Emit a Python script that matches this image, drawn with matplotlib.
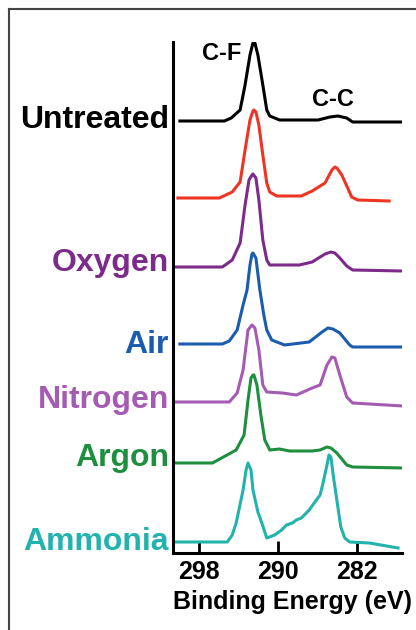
import numpy as np
import matplotlib.pyplot as plt
from matplotlib.lines import Line2D

plt.rcParams['font.family'] = ['Liberation Sans', 'DejaVu Sans']
plt.rcParams['font.weight'] = 'bold'

# XPS C1s spectra, binding energy (eV) vs intensity (a.u., relative to own baseline)
untreated_e = [299.9, 295.4, 294.7, 293.8, 293.3, 292.8, 292.5, 292.4, 292.3, 292.0, 291.5, 291.1, 290.8,
               289.8, 285.9, 284.7, 283.9, 283.0, 282.4, 277.3]
untreated_i = [0, 0, 0.3, 1.1, 3.6, 6.6, 7.8, 7.9, 7.8, 6.6, 3.6, 1.1, 0.5,
               0.1, 0.1, 0.4, 0.5, 0.3, -0.1, -0.1]

red_e = [300.1, 295.9, 294.6, 293.8, 293.3, 292.8, 292.5, 292.4, 292.2, 291.9, 291.5, 291.1, 290.8,
         290.1, 287.6, 286.5, 285.2, 284.5, 284.2, 284.0, 283.5, 282.9, 282.5, 281.9, 278.7]
red_i = [0, 0, 0.6, 1.6, 4.8, 7.8, 8.7, 8.8, 8.6, 7.3, 4.3, 1.5, 0.6,
         0.2, 0.2, 0.7, 1.5, 2.8, 3.1, 3.0, 2.3, 1.0, 0.1, -0.2, -0.3]

oxygen_e = [300.3, 295.6, 294.6, 293.8, 293.3, 292.9, 292.6, 292.5, 292.2, 291.9, 291.5, 291.1, 290.8,
            287.8, 286.5, 285.2, 284.6, 284.2, 283.7, 283.0, 282.4, 277.3]
oxygen_i = [0, 0, 0.7, 2.4, 6.2, 8.7, 9.2, 9.3, 8.9, 6.7, 2.7, 0.7, 0.2,
            0.2, 0.5, 1.3, 1.5, 1.4, 0.9, 0.1, -0.3, -0.4]

air_e = [299.9, 295.6, 294.9, 294.1, 293.5, 293.1, 292.8, 292.6, 292.5, 292.2, 291.8, 291.4, 291.1,
         290.6, 289.3, 286.8, 285.5, 284.9, 284.4, 283.7, 282.7, 282.4, 277.3]
air_i = [0, 0, 0.3, 1.4, 3.9, 5.4, 7.9, 9.0, 9.1, 8.6, 5.4, 2.9, 1.4,
         0.4, -0.1, 0.2, 1.2, 1.6, 1.5, 1.1, -0.1, -0.3, -0.3]

nitrogen_e = [300.3, 294.9, 294.1, 293.5, 293.0, 292.6, 292.3, 291.9, 291.5, 291.1, 289.5, 288.1,
              286.5, 285.7, 285.0, 284.5, 284.2, 283.7, 283.0, 282.4, 277.3]
nitrogen_i = [0, 0, 0.9, 3.2, 7.2, 7.7, 7.4, 5.2, 1.7, 1.0, 0.9, 0.7,
              1.4, 1.7, 3.7, 4.5, 4.4, 2.7, 0.5, -0.1, -0.4]

argon_e = [300.3, 296.6, 294.2, 293.4, 293.0, 292.7, 292.5, 292.4, 292.1, 291.7, 291.3, 290.8, 289.8,
           288.8, 286.5, 285.7, 285.0, 284.6, 284.0, 283.0, 282.4, 277.3]
argon_i = [0, 0, 1.3, 2.8, 6.3, 8.5, 8.8, 8.8, 7.8, 4.8, 2.3, 1.3, 1.4,
           1.2, 1.2, 1.3, 1.6, 1.5, 1.0, -0.2, -0.4, -0.5]

ammonia_e = [300.3, 295.1, 294.6, 294.2, 293.5, 293.2, 293.0, 292.7, 292.5, 292.0, 291.6, 291.1,
             290.3, 289.6, 289.1, 288.5, 288.1, 287.6, 287.3, 286.8, 286.3, 285.7, 285.4, 285.0,
             284.8, 284.6, 284.4, 283.9, 283.6, 283.2, 282.7, 280.7, 277.8]
ammonia_i = [0, 0, 0.7, 1.9, 5.2, 7.2, 7.9, 7.2, 5.2, 3.0, 1.9, 0.4,
             0.7, 1.2, 1.7, 1.9, 2.2, 2.4, 2.7, 3.2, 3.9, 4.7, 5.9, 7.7,
             8.7, 8.5, 6.9, 3.5, 1.5, 0.4, 0.0, -0.1, -0.6]

labels = ['Untreated', '', 'Oxygen', 'Air', 'Nitrogen', 'Argon', 'Ammonia']
offsets = [43.2, 35.5, 28.6, 20.9, 15.1, 9.0, 1.1]
label_y = [43.3, 35.5, 29.0, 20.8, 15.3, 9.5, 1.1]
colors = ['#000000', '#ee3524', '#7d2b8b', '#1b5cae', '#a45cb3', '#1e8f3e', '#22b3ad']
energies = [untreated_e, red_e, oxygen_e, air_e, nitrogen_e, argon_e, ammonia_e]
intensities = [untreated_i, red_i, oxygen_i, air_i, nitrogen_i, argon_i, ammonia_i]

xticks = [298, 290, 282]

fig = plt.figure(figsize=(4.16, 6.30), dpi=100)
ax = fig.add_axes([173 / 416, 77 / 630, 229 / 416, 511 / 630])

for e, inten, off, c in zip(energies, intensities, offsets, colors):
    ax.plot(e, np.array(inten) + off, color=c, lw=2.2, solid_joinstyle='round')

for lab, ly, c in zip(labels, label_y, colors):
    if lab:
        ax.text(-0.018, ly, lab, transform=ax.get_yaxis_transform(), ha='right', va='center',
                fontsize=23, color=c, fontweight='bold')

ax.text(295.7, 49.9, 'C-F', ha='center', va='center', fontsize=17, fontweight='bold')
ax.text(284.4, 45.4, 'C-C', ha='center', va='center', fontsize=17, fontweight='bold')

ax.set_xlim(300.6, 277.4)
ax.set_ylim(0, 51.1)
ax.set_xticks(xticks)
ax.set_xticklabels([str(t) for t in xticks])
ax.set_yticks([])
ax.tick_params(axis='x', direction='in', length=9, width=2, pad=5, labelsize=18)
for s in ['top', 'right']:
    ax.spines[s].set_visible(False)
for s in ['left', 'bottom']:
    ax.spines[s].set_linewidth(2.2)
ax.set_xlabel('Binding Energy (eV)', fontsize=18, fontweight='bold', labelpad=4)
ax.xaxis.label.set_x(0.522)

# frame border (top and left only visible in the crop)
fig.add_artist(Line2D([9 / 416, 9 / 416], [0, 1 - 9 / 630], transform=fig.transFigure,
                      color='#444444', lw=1.5))
fig.add_artist(Line2D([9 / 416, 1], [1 - 9 / 630, 1 - 9 / 630], transform=fig.transFigure,
                      color='#444444', lw=1.5))

fig.savefig('out.png', dpi=100)
